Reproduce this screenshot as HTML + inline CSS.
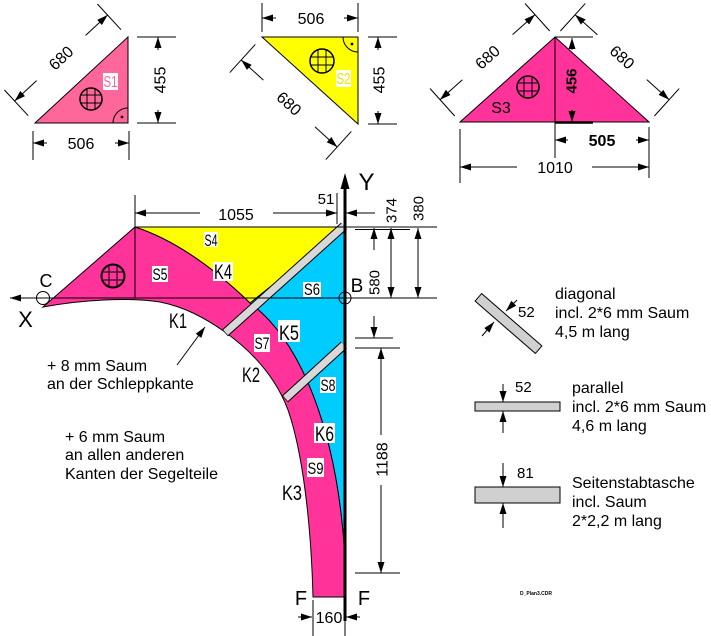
<!DOCTYPE html>
<html><head><meta charset="utf-8"><style>
html,body{margin:0;padding:0;background:#fff;}
svg{display:block;}
text{font-family:"Liberation Sans",Arial,sans-serif;fill:#000;stroke:none;}
</style></head><body>
<svg width="711" height="636" viewBox="0 0 711 636" xmlns="http://www.w3.org/2000/svg">
<defs>
<marker id="a" viewBox="0 0 11 7" refX="11" refY="3.5" markerWidth="11" markerHeight="7" markerUnits="userSpaceOnUse" orient="auto-start-reverse"><path d="M0,0L11,3.5L0,7z" fill="#000"/></marker>
</defs>
<rect width="711" height="636" fill="#fff"/>

<!-- ===== S1 ===== -->
<g stroke="#000" stroke-width="1" fill="none">
<polygon points="35,123 128,37 128,123" fill="#ff6699"/>
<circle cx="91" cy="99" r="11" stroke-width="1.5"/>
<path d="M87,88.7V109.3 M95,88.7V109.3 M80.7,95H101.3 M80.7,103H101.3"/>
<path d="M113,123A15,15 0 0 1 128,108"/>
<path d="M137,37H176 M137,123H176 M33,131V160 M129,131V160 M28.2,115.7L4.4,90 M121,29.7L97.4,4"/>
<line x1="158" y1="50" x2="158" y2="37" marker-end="url(#a)"/>
<line x1="158" y1="110" x2="158" y2="123" marker-end="url(#a)"/>
<line x1="47" y1="143" x2="33" y2="143" marker-end="url(#a)"/>
<line x1="115" y1="143" x2="129" y2="143" marker-end="url(#a)"/>
<line x1="36.6" y1="80.6" x2="14.6" y2="101" marker-end="url(#a)"/>
<line x1="85.6" y1="35.4" x2="107.6" y2="15" marker-end="url(#a)"/>
</g>
<circle cx="122" cy="117" r="1.4" fill="#000"/>
<rect x="103" y="73" width="15" height="17" fill="#fff"/>
<text x="110.5" y="87" font-size="16" text-anchor="middle" style="fill:#ff6699" textLength="14" lengthAdjust="spacingAndGlyphs">S1</text>
<text transform="translate(160,80) rotate(-90)" text-anchor="middle" dy="5.5" font-size="16">455</text>
<text x="81" y="149" text-anchor="middle" font-size="16">506</text>
<text transform="translate(61,58) rotate(-42.8)" text-anchor="middle" dy="5.5" font-size="16">680</text>

<!-- ===== S2 ===== -->
<g stroke="#000" stroke-width="1" fill="none">
<polygon points="262,37 358,37 358,124" fill="#ffff00"/>
<circle cx="322" cy="61" r="12" stroke-width="1.5"/>
<path d="M318,49.7V72.3 M326,49.7V72.3 M310.7,57H333.3 M310.7,65H333.3"/>
<path d="M343,37A15,15 0 0 0 358,52"/>
<path d="M262,3V32 M358,3V32 M368,37H397 M368,124H397 M255.3,44.4L229.8,72.6 M351.3,131.4L325.8,159.6"/>
<line x1="276" y1="18" x2="262" y2="18" marker-end="url(#a)"/>
<line x1="344" y1="18" x2="358" y2="18" marker-end="url(#a)"/>
<line x1="378" y1="50" x2="378" y2="37" marker-end="url(#a)"/>
<line x1="378" y1="111" x2="378" y2="124" marker-end="url(#a)"/>
<line x1="263.4" y1="80.1" x2="241.2" y2="60" marker-end="url(#a)"/>
<line x1="315" y1="126.9" x2="337.2" y2="147" marker-end="url(#a)"/>
</g>
<circle cx="352" cy="44" r="1.4" fill="#000"/>
<rect x="336" y="70" width="15" height="17" fill="#fff"/>
<text x="343.5" y="84" font-size="16" text-anchor="middle" style="fill:#e8e800" textLength="14" lengthAdjust="spacingAndGlyphs">S2</text>
<text x="311" y="24" text-anchor="middle" font-size="16">506</text>
<text transform="translate(379,80) rotate(-90)" text-anchor="middle" dy="5.5" font-size="16">455</text>
<text transform="translate(289,103.5) rotate(42.2)" text-anchor="middle" dy="5.5" font-size="16">680</text>

<!-- ===== S3 ===== -->
<g stroke="#000" stroke-width="1" fill="none">
<polygon points="460,122 555,37 649,122" fill="#ff3399"/>
<line x1="555" y1="37" x2="555" y2="122"/>
<circle cx="528" cy="87" r="11" stroke-width="1.5"/>
<path d="M524,76.7V97.3 M532,76.7V97.3 M517.7,83H538.3 M517.7,91H538.3"/>
<path d="M555,37H593 M555,122V158 M649,127V178 M460,129V183 M454.7,116L430,88.5 M549.7,31L525,3.5 M560.4,31L585.2,3.6 M654.4,116L679.2,88.6"/>
<path d="M555,122.5H593" stroke-width="2.5"/>
<line x1="572" y1="50" x2="572" y2="38" marker-end="url(#a)"/>
<line x1="572" y1="110" x2="572" y2="122" marker-end="url(#a)"/>
<line x1="568" y1="140" x2="555" y2="140" marker-end="url(#a)"/>
<line x1="636" y1="140" x2="649" y2="140" marker-end="url(#a)"/>
<line x1="517" y1="167" x2="460" y2="167" marker-end="url(#a)"/>
<line x1="592" y1="167" x2="649" y2="167" marker-end="url(#a)"/>
<line x1="462.4" y1="79.7" x2="440" y2="99.7" marker-end="url(#a)"/>
<line x1="512.6" y1="34.6" x2="535" y2="14.6" marker-end="url(#a)"/>
<line x1="597.4" y1="34.8" x2="575.1" y2="14.7" marker-end="url(#a)"/>
<line x1="646.8" y1="79.6" x2="669.1" y2="99.7" marker-end="url(#a)"/>
</g>
<text x="501" y="113" font-size="16" text-anchor="middle">S3</text>
<text transform="translate(571,81) rotate(-90)" text-anchor="middle" dy="5.5" font-size="15" font-weight="bold">456</text>
<text x="602" y="146" text-anchor="middle" font-size="16" font-weight="bold">505</text>
<text x="555" y="173" text-anchor="middle" font-size="16">1010</text>
<text transform="translate(487.5,57.2) rotate(-41.8)" text-anchor="middle" dy="5.5" font-size="16">680</text>
<text transform="translate(622.1,57.2) rotate(42.1)" text-anchor="middle" dy="5.5" font-size="16">680</text>

<!-- ===== Main sail ===== -->
<g stroke="#000" stroke-width="1">
<path d="M345,227 L345,560 C338,430 300,340 250,303 Z" fill="#00ccff"/>
<path d="M135,227 L345,227 L250,303 Q190,245 135,227 Z" fill="#ffff00"/>
<path d="M43,307 L135,227 Q190,245 250,303 C300,340 338,430 345,560 L345,597 L313,597 C311,520 302,450 288,410 C275,375 250,350 225,332 C205,318 185,307 160,302 C130,297 80,300 43,307 Z" fill="#ff3399"/>
</g>
<!-- grid circle in S5 -->
<g stroke="#000" fill="none">
<circle cx="113" cy="276" r="11.5" stroke-width="2"/>
<path d="M109,265.3V286.7 M117,265.3V286.7 M102.3,272H123.7 M102.3,280H123.7" stroke-width="1"/>
</g>
<!-- strips -->
<line x1="225" y1="333" x2="344" y2="226" stroke="#000" stroke-width="9"/>
<line x1="225.5" y1="332.5" x2="344" y2="226" stroke="#d8d8d8" stroke-width="7"/>
<line x1="285" y1="399" x2="344" y2="345" stroke="#000" stroke-width="9"/>
<line x1="285.5" y1="398.5" x2="344" y2="345" stroke="#d8d8d8" stroke-width="7"/>

<g stroke="#000" stroke-width="1" fill="none">
<path d="M135,227V298 M135,227H437 M355,229.5H410"/>
<line x1="437" y1="298" x2="10" y2="298" marker-end="url(#a)"/>
<circle cx="43" cy="298" r="6.5"/>
<circle cx="345" cy="298" r="6"/>
<!-- dims -->
<path d="M135,195V227 M337,193V224 M355,338H393 M355,348H400 M355,573H400 M313,600V636 M345,620V636"/>
<line x1="200" y1="213" x2="135" y2="213" marker-end="url(#a)"/>
<line x1="273" y1="213" x2="337" y2="213" marker-end="url(#a)"/>
<line x1="375" y1="213" x2="346" y2="213" marker-end="url(#a)"/>
<line x1="374" y1="250" x2="374" y2="228" marker-end="url(#a)"/>
<line x1="374" y1="316" x2="374" y2="338" marker-end="url(#a)"/>
<line x1="391" y1="228" x2="391" y2="298" marker-start="url(#a)" marker-end="url(#a)"/>
<line x1="418" y1="228" x2="418" y2="298" marker-start="url(#a)" marker-end="url(#a)"/>
<line x1="381" y1="435" x2="381" y2="348" marker-end="url(#a)"/>
<line x1="381" y1="485" x2="381" y2="573" marker-end="url(#a)"/>
<line x1="298" y1="617" x2="312" y2="617" marker-end="url(#a)"/>
<line x1="360" y1="617" x2="346" y2="617" marker-end="url(#a)"/>
<line x1="177" y1="365" x2="205" y2="327" marker-end="url(#a)"/>
</g>
<!-- Y axis -->
<line x1="345" y1="186" x2="345" y2="621" stroke="#000" stroke-width="3"/>
<polygon points="345,173 340.5,189 349.5,189" fill="#000"/>

<!-- labels with white boxes -->
<g fill="#fff">
<rect x="204" y="232" width="14" height="15"/>
<rect x="152" y="266" width="16" height="16"/>
<rect x="303" y="282" width="18" height="15"/>
<rect x="254" y="334" width="16" height="18"/>
<rect x="320" y="377" width="16" height="16"/>
<rect x="307" y="458" width="17" height="19"/>
<rect x="213" y="262" width="20" height="19"/>
<rect x="278" y="320" width="22" height="22"/>
<rect x="314" y="423" width="21" height="20"/>
</g>
<g font-size="17" text-anchor="middle">
<text x="211" y="246" textLength="13" lengthAdjust="spacingAndGlyphs">S4</text>
<text x="160" y="280" textLength="15" lengthAdjust="spacingAndGlyphs">S5</text>
<text x="312" y="295" textLength="16" lengthAdjust="spacingAndGlyphs">S6</text>
<text x="262" y="349" textLength="15" lengthAdjust="spacingAndGlyphs">S7</text>
<text x="328" y="391" textLength="15" lengthAdjust="spacingAndGlyphs">S8</text>
<text x="315.5" y="474" textLength="16" lengthAdjust="spacingAndGlyphs">S9</text>
</g>
<g font-size="21" text-anchor="middle">
<text x="223" y="279" textLength="18" lengthAdjust="spacingAndGlyphs">K4</text>
<text x="289" y="340" textLength="20" lengthAdjust="spacingAndGlyphs">K5</text>
<text x="324.5" y="441" textLength="19" lengthAdjust="spacingAndGlyphs">K6</text>
<text x="178" y="328" textLength="18" lengthAdjust="spacingAndGlyphs">K1</text>
<text x="251" y="382" textLength="18" lengthAdjust="spacingAndGlyphs">K2</text>
<text x="292" y="500" textLength="20" lengthAdjust="spacingAndGlyphs">K3</text>
</g>
<text x="46" y="287" font-size="18" text-anchor="middle">C</text>
<text x="357" y="292" font-size="19" text-anchor="middle">B</text>
<text x="25.5" y="327" font-size="22" text-anchor="middle">X</text>
<text x="366.5" y="190" font-size="24" text-anchor="middle">Y</text>
<text x="301" y="605" font-size="20" text-anchor="middle">F</text>
<text x="364" y="605" font-size="20" text-anchor="middle">F</text>

<text x="236" y="220" font-size="16" text-anchor="middle">1055</text>
<text x="326" y="204" font-size="15" text-anchor="middle">51</text>
<text transform="translate(391,210.5) rotate(-90)" text-anchor="middle" dy="5.5" font-size="15">374</text>
<text transform="translate(418,208.5) rotate(-90)" text-anchor="middle" dy="5.5" font-size="15">380</text>
<text transform="translate(374,282.5) rotate(-90)" text-anchor="middle" dy="5.5" font-size="15">580</text>
<text transform="translate(382,459.5) rotate(-90)" text-anchor="middle" dy="5.5" font-size="16">1188</text>
<text x="329" y="623" font-size="16" text-anchor="middle">160</text>

<!-- left notes -->
<g font-size="16">
<text x="47" y="371">+ 8 mm Saum</text>
<text x="47" y="389">an der Schleppkante</text>
<text x="65" y="442">+ 6 mm Saum</text>
<text x="65" y="460">an allen anderen</text>
<text x="65" y="479">Kanten der Segelteile</text>
</g>

<!-- legend -->
<line x1="478" y1="297" x2="539" y2="350" stroke="#000" stroke-width="11"/>
<line x1="478.7" y1="297.6" x2="538.3" y2="349.4" stroke="#d0d0d0" stroke-width="9"/>
<rect x="475" y="402" width="85" height="9" fill="#d0d0d0" stroke="#000"/>
<rect x="475" y="487" width="85" height="16" fill="#d0d0d0" stroke="#000"/>
<g stroke="#000" stroke-width="1">
<line x1="517" y1="300" x2="506" y2="311" marker-end="url(#a)"/>
<line x1="482" y1="336" x2="494" y2="322" marker-end="url(#a)"/>
<line x1="503" y1="384" x2="503" y2="402" marker-end="url(#a)"/>
<line x1="503" y1="433" x2="503" y2="411" marker-end="url(#a)"/>
<line x1="503" y1="463" x2="503" y2="487" marker-end="url(#a)"/>
<line x1="503" y1="528" x2="503" y2="503" marker-end="url(#a)"/>
</g>
<g font-size="15">
<text x="518" y="317">52</text>
<text x="515" y="392">52</text>
<text x="517" y="478">81</text>
</g>
<g font-size="16">
<text x="555" y="299">diagonal</text>
<text x="555" y="318">incl. 2*6 mm Saum</text>
<text x="555" y="337">4,5 m lang</text>
<text x="572" y="393">parallel</text>
<text x="572" y="412">incl. 2*6 mm Saum</text>
<text x="572" y="431">4,6 m lang</text>
<text x="572" y="488">Seitenstabtasche</text>
<text x="572" y="507">incl. Saum</text>
<text x="572" y="526">2*2,2 m lang</text>
</g>
<text x="520" y="595" font-size="5" font-weight="bold">D_Plan3.CDR</text>
</svg>
</body></html>
